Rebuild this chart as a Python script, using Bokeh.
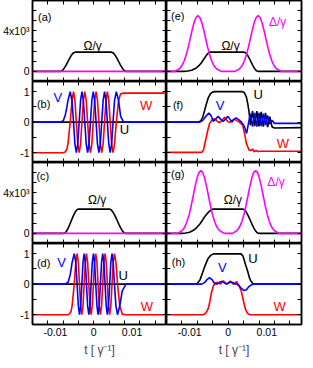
from bokeh.plotting import figure
from bokeh.layouts import gridplot
from bokeh.models import FixedTicker, LinearAxis, Label, Range1d
from bokeh.embed import file_html
from bokeh.resources import INLINE

FONT = "Liberation Sans"
BLACK, RED, BLUE, MAGENTA = "#000000", "#ff0000", "#0000ff", "#ff00ff"

# ---------------- axes ----------------
T_RANGE = (-16e-3, 19e-3)
X_LABEL_TICKS = [-0.01, 0.0, 0.01]
X_TICK_LABELS = {-0.01: "-0.01", 0.0: "0", 0.01: "0.01"}
X_MINOR_TICKS = [-16e-3, -12e-3, -8e-3, -4e-3, 0.0, 4e-3, 8e-3, 12e-3, 16e-3]
X_TITLE = "t [ γ⁻¹]"

OMEGA_RANGE = (-1000, 7000)
OMEGA_LABEL_TICKS = [0, 4000]
OMEGA_TICK_LABELS = {0: "0", 4000: "4x10³"}
OMEGA_MINOR_TICKS = [-1000, 0, 1000, 2000, 3000, 4000, 5000, 6000, 7000]

BLOCH_RANGE = (-1.32, 1.33)
BLOCH_LABEL_TICKS = [-1, 0, 1]
BLOCH_TICK_LABELS = {-1: "-1", 0: "0", 1: "1"}
BLOCH_MINOR_TICKS = [-1, -0.5, 0, 0.5, 1]

# ---------------- panel (a) ----------------
A_OMEGA_T = [-16e-3, -8.70e-3, -8.32e-3, -7.93e-3, -7.55e-3, -7.16e-3, -6.78e-3, -6.39e-3, -6.01e-3,
             -5.62e-3, -5.24e-3, -4.85e-3, 4.60e-3, 4.99e-3, 5.37e-3, 5.76e-3, 6.14e-3, 6.53e-3,
             6.91e-3, 7.30e-3, 7.68e-3, 8.07e-3, 8.45e-3, 19e-3]
A_OMEGA = [0, 0, 53, 198, 410, 669, 950, 1231, 1490, 1702, 1847, 1900, 1900, 1847, 1702, 1490,
           1231, 950, 669, 410, 198, 53, 0, 0]
A_DELTA_T = [-16e-3, 19e-3]
A_DELTA = [0, 0]

# ---------------- panel (c) ----------------
C_OMEGA_T = [-16e-3, -7.83e-3, -7.45e-3, -7.06e-3, -6.68e-3, -6.30e-3, -5.92e-3, -5.53e-3, -5.15e-3,
             -4.77e-3, -4.38e-3, -4.00e-3, 4.08e-3, 4.51e-3, 4.93e-3, 5.36e-3, 5.78e-3, 6.21e-3,
             6.63e-3, 7.06e-3, 7.48e-3, 7.91e-3, 8.33e-3, 19e-3]
C_OMEGA = [0, 0, 67, 250, 518, 845, 1200, 1555, 1882, 2150, 2333, 2400, 2400, 2333, 2150, 1882,
           1555, 1200, 845, 518, 250, 67, 0, 0]
C_DELTA_T = [-16e-3, 19e-3]
C_DELTA = [0, 0]

# ---------------- panel (e) ----------------
E_OMEGA_T = [-16e-3, -11.5e-3, -10.5e-3, -9.5e-3, -8.5e-3, -7.6e-3, -6.9e-3, -6.3e-3, -5.7e-3,
             -5.2e-3, -4.8e-3, 4.10e-3, 4.46e-3, 4.82e-3, 5.18e-3, 5.54e-3, 5.90e-3, 6.26e-3,
             6.62e-3, 6.98e-3, 7.34e-3, 7.70e-3, 19e-3]
E_OMEGA = [0, 0, 30, 110, 280, 560, 880, 1220, 1560, 1800, 1900, 1900, 1847, 1702, 1490, 1231,
           950, 669, 410, 198, 53, 0, 0]
E_DELTA_T = [-16e-3,
             -13.85e-3, -12.85e-3, -12.35e-3, -11.85e-3, -11.35e-3, -10.85e-3, -10.35e-3, -9.85e-3,
             -9.35e-3, -8.85e-3, -8.35e-3, -7.85e-3, -7.35e-3, -6.85e-3, -6.35e-3, -5.85e-3,
             -5.35e-3, -4.85e-3, -4.35e-3, -3.85e-3, -3.35e-3, -2.85e-3, -1.85e-3,
             1.75e-3, 2.75e-3, 3.25e-3, 3.75e-3, 4.25e-3, 4.75e-3, 5.25e-3, 5.75e-3, 6.25e-3,
             6.75e-3, 7.25e-3, 7.75e-3, 8.25e-3, 8.75e-3, 9.25e-3, 9.75e-3, 10.25e-3, 10.75e-3,
             11.25e-3, 11.75e-3, 12.25e-3, 12.75e-3, 13.75e-3,
             19e-3]
E_DELTA = [0,
           0, 204, 385, 671, 1100, 1683, 2420, 3250, 4092, 4824, 5324, 5500, 5324, 4824, 4092,
           3250, 2420, 1683, 1100, 671, 385, 204, 0,
           0, 204, 385, 671, 1100, 1683, 2420, 3250, 4092, 4824, 5324, 5500, 5324, 4824, 4092,
           3250, 2420, 1683, 1100, 671, 385, 204, 0,
           0]

# ---------------- panel (g) ----------------
G_OMEGA_T = [-16e-3, -12.0e-3, -11.0e-3, -10.0e-3, -9.0e-3, -8.1e-3, -7.3e-3, -6.6e-3, -5.9e-3,
             -5.1e-3, -4.4e-3, -3.9e-3, 3.75e-3, 4.17e-3, 4.58e-3, 5.00e-3, 5.41e-3, 5.83e-3,
             6.24e-3, 6.66e-3, 7.07e-3, 7.49e-3, 7.90e-3, 19e-3]
G_OMEGA = [0, 0, 30, 120, 300, 600, 950, 1350, 1750, 2100, 2330, 2400, 2400, 2333, 2150, 1882,
           1555, 1200, 845, 518, 250, 67, 0, 0]
G_DELTA_T = [-16e-3,
             -13.1e-3, -12.1e-3, -11.6e-3, -11.1e-3, -10.6e-3, -10.1e-3, -9.6e-3, -9.1e-3,
             -8.6e-3, -8.1e-3, -7.6e-3, -7.1e-3, -6.6e-3, -6.1e-3, -5.6e-3, -5.1e-3,
             -4.6e-3, -4.1e-3, -3.6e-3, -3.1e-3, -2.6e-3, -2.1e-3, -1.1e-3,
             1.1e-3, 2.1e-3, 2.6e-3, 3.1e-3, 3.6e-3, 4.1e-3, 4.6e-3, 5.1e-3, 5.6e-3,
             6.1e-3, 6.6e-3, 7.1e-3, 7.6e-3, 8.1e-3, 8.6e-3, 9.1e-3, 9.6e-3, 10.1e-3,
             10.6e-3, 11.1e-3, 11.6e-3, 12.1e-3, 13.1e-3,
             19e-3]
G_DELTA = [0,
           0, 229, 434, 756, 1240, 1897, 2728, 3664, 4613, 5437, 6002, 6200, 6002, 5437, 4613,
           3664, 2728, 1897, 1240, 756, 434, 229, 0,
           0, 229, 434, 756, 1240, 1897, 2728, 3664, 4613, 5437, 6002, 6200, 6002, 5437, 4613,
           3664, 2728, 1897, 1240, 756, 434, 229, 0,
           0]

# ---------------- panel (b) ----------------
B_T = [-16e-3, -8.67e-3, -7.91e-3, -7.40e-3, -7.02e-3,
       -6.73e-3, -6.15e-3, -5.69e-3, -5.28e-3, -4.92e-3, -4.55e-3, -4.18e-3, -3.81e-3,
       -3.44e-3, -3.08e-3, -2.71e-3, -2.34e-3, -1.97e-3, -1.60e-3, -1.23e-3, -0.87e-3,
       -0.50e-3, -0.13e-3, 0.24e-3, 0.61e-3, 0.97e-3, 1.34e-3, 1.71e-3, 2.08e-3,
       2.45e-3, 2.82e-3, 3.19e-3, 3.55e-3, 3.92e-3, 4.29e-3, 4.67e-3, 5.03e-3,
       5.43e-3, 5.89e-3, 6.48e-3,
       7.02e-3, 7.81e-3, 19e-3]
B_U_T = [-16e-3, 19e-3]
B_U = [0, 0]
B_V = [0, 0, 0.06, 0.25, 0.49,
       0.71, 1, 0.71, 0, -0.71, -1, -0.71, 0,
       0.71, 1, 0.71, 0, -0.71, -1, -0.71, 0,
       0.71, 1, 0.71, 0, -0.71, -1, -0.71, 0,
       0.71, 1, 0.71, 0, -0.71, -1, -0.71, 0,
       0.71, 1, 0.71,
       0.19, 0, 0]
B_W = [-1, -1, -1, -0.97, -0.87,
       -0.71, 0, 0.71, 1, 0.71, 0, -0.71, -1,
       -0.71, 0, 0.71, 1, 0.71, 0, -0.71, -1,
       -0.71, 0, 0.71, 1, 0.71, 0, -0.71, -1,
       -0.71, 0, 0.71, 1, 0.71, 0, -0.71, -1,
       -0.71, 0, 0.71,
       0.93, 0.95, 0.95]

# ---------------- panel (d) ----------------
D_T = [-16e-3, -7.45e-3, -6.68e-3, -6.17e-3, -5.92e-3,
       -5.65e-3, -5.10e-3, -4.69e-3, -4.35e-3, -4.03e-3, -3.72e-3, -3.42e-3, -3.11e-3,
       -2.81e-3, -2.51e-3, -2.20e-3, -1.90e-3, -1.60e-3, -1.29e-3, -0.99e-3, -0.69e-3,
       -0.39e-3, -0.08e-3, 0.22e-3, 0.52e-3, 0.83e-3, 1.13e-3, 1.43e-3, 1.73e-3,
       2.04e-3, 2.34e-3, 2.64e-3, 2.95e-3, 3.25e-3, 3.55e-3, 3.85e-3, 4.16e-3,
       4.46e-3, 4.77e-3, 5.08e-3, 5.41e-3, 5.79e-3, 6.21e-3, 6.79e-3,
       7.45e-3, 8.42e-3, 19e-3]
D_U_T = [-16e-3, 19e-3]
D_U = [0, 0]
D_V = [0, 0, 0.07, 0.30, 0.48,
       0.71, 1, 0.71, 0, -0.71, -1, -0.71, 0,
       0.71, 1, 0.71, 0, -0.71, -1, -0.71, 0,
       0.71, 1, 0.71, 0, -0.71, -1, -0.71, 0,
       0.71, 1, 0.71, 0, -0.71, -1, -0.71, 0,
       0.71, 1, 0.71, 0, -0.71, -1, -0.71,
       -0.22, 0, 0]
D_W = [-1, -1, -1, -0.95, -0.88,
       -0.71, 0, 0.71, 1, 0.71, 0, -0.71, -1,
       -0.71, 0, 0.71, 1, 0.71, 0, -0.71, -1,
       -0.71, 0, 0.71, 1, 0.71, 0, -0.71, -1,
       -0.71, 0, 0.71, 1, 0.71, 0, -0.71, -1,
       -0.71, 0, 0.71, 1, 0.71, 0, -0.71,
       -0.98, -1, -1]

# ---------------- panel (f) ----------------
F_U_T = [-16e-3, -7.91e-3, -7.14e-3, -6.63e-3, -6.12e-3, -5.61e-3, -5.10e-3, -4.59e-3, -3.95e-3,
         -3.32e-3, 3.57e-3, 4.21e-3, 4.72e-3, 5.10e-3, 5.43e-3, 5.74e-3, 6.30e-3, 6.86e-3,
         7.42e-3, 7.98e-3, 8.55e-3, 9.11e-3, 9.67e-3, 10.23e-3, 10.79e-3, 11.35e-3, 11.99e-3, 19e-3]
F_U = [0, 0, 0.04, 0.15, 0.38, 0.62, 0.82, 0.93, 0.99,
       1.0, 1.0, 0.96, 0.82, 0.58, 0.3, -0.1, 0.36, -0.13,
       0.36, -0.14, 0.34, -0.15, 0.3, -0.16, 0.18, -0.15, -0.19, -0.18]
F_V_T = [-16e-3, -7.40e-3, -6.63e-3, -5.87e-3, -5.03e-3, -4.46e-3, -3.90e-3, -3.32e-3, -2.63e-3,
         -1.99e-3, -1.35e-3, -0.71e-3, -0.08e-3, 0.43e-3, 0.94e-3, 1.53e-3, 2.04e-3, 2.68e-3,
         3.32e-3, 4.16e-3, 4.77e-3, 5.31e-3, 5.74e-3, 6.30e-3, 6.86e-3, 7.42e-3, 7.98e-3,
         8.55e-3, 9.11e-3, 9.67e-3, 10.23e-3, 10.79e-3, 11.35e-3, 11.99e-3, 19e-3]
F_V = [0, 0, 0.05, 0.18, 0.3, 0.22, 0.03, 0.08, 0.19,
       0.1, 0.02, 0.1, 0.19, 0.1, 0.0, 0.1, 0.14, 0.08,
       0.02, -0.13, -0.37, 0.0, 0.28, -0.15, 0.3, -0.15, 0.3,
       -0.13, 0.28, -0.1, 0.22, -0.06, 0.06, -0.04, -0.04]
F_W_T = [-16e-3, -6.89e-3, -6.38e-3, -5.87e-3, -5.36e-3, -4.85e-3, -4.34e-3, -3.49e-3, -2.86e-3,
         -2.22e-3, -1.58e-3, -0.94e-3, -0.31e-3, 0.33e-3, 0.97e-3, 1.61e-3, 2.24e-3, 2.88e-3,
         3.75e-3, 4.21e-3, 4.72e-3, 5.36e-3, 5.87e-3, 6.30e-3, 6.76e-3, 7.22e-3, 7.65e-3,
         8.42e-3, 19e-3]
F_W = [-0.99, -0.99, -0.9, -0.6, -0.3, -0.05, 0.05, 0.12, 0.03,
       -0.02, 0.07, 0.16, 0.05, -0.02, 0.05, 0.1, 0.05, 0.0,
       -0.1, -0.35, -0.7, -0.9, -0.93, -0.88, -0.97, -0.92, -0.96,
       -0.95, -0.95]

# ---------------- panel (h) ----------------
H_U_T = [-16e-3, -8.16e-3, -7.32e-3, -6.63e-3, -6.05e-3, -5.18e-3, -4.46e-3, -3.83e-3,
         3.32e-3, 3.83e-3, 4.46e-3, 5.03e-3, 5.48e-3, 5.87e-3, 6.38e-3, 6.89e-3, 19e-3]
H_U = [0, 0, 0.14, 0.38, 0.59, 0.85, 0.95, 0.99,
       0.99, 0.92, 0.65, 0.43, 0.22, 0.1, 0.02, 0, 0]
H_V_T = [-16e-3, -6.89e-3, -6.12e-3, -5.48e-3, -4.85e-3, -4.21e-3, -3.57e-3, -2.93e-3,
         -2.30e-3, -1.66e-3, -1.02e-3, -0.38e-3, 0.26e-3, 0.89e-3, 1.53e-3, 2.17e-3,
         2.81e-3, 3.44e-3, 4.08e-3, 4.72e-3, 5.36e-3, 5.99e-3, 6.63e-3, 19e-3]
H_V = [0, 0, 0.05, 0.15, 0.21, 0.15, 0.03, 0.0,
       0.06, 0.09, 0.04, 0.0, 0.05, 0.07, 0.03, 0.0,
       -0.05, -0.14, -0.21, -0.18, -0.08, -0.02, 0, 0]
H_W_T = [-16e-3, -6.38e-3, -5.74e-3, -5.18e-3, -4.72e-3, -4.34e-3, -3.83e-3, -3.32e-3,
         -2.68e-3, -2.04e-3, -1.28e-3, -0.38e-3, 0.51e-3, 1.40e-3, 2.17e-3, 2.81e-3,
         3.44e-3, 3.95e-3, 4.46e-3, 4.97e-3, 5.61e-3, 19e-3]
H_W = [-1, -1, -0.93, -0.8, -0.55, -0.27, -0.05, 0.04,
       0.06, 0.0, 0.11, 0.0, 0.1, -0.01, 0.08, -0.05,
       -0.25, -0.55, -0.82, -0.95, -1.0, -1.0]

# ---------------- in-panel texts ----------------
# (text, t, y, colour, size)
TEXTS = {
    "a": [("(a)", -12.8e-3, 5360, BLACK, "11px"), ("Ω/γ", -0.3e-3, 2500, BLACK, "12px")],
    "e": [("(e)", -13.1e-3, 5440, BLACK, "11px"), ("Ω/γ", 0.6e-3, 2500, BLACK, "12px"),
          ("Δ/γ", 12.8e-3, 4900, MAGENTA, "12px")],
    "c": [("(c)", -13.3e-3, 5700, BLACK, "11px"), ("Ω/γ", 0.9e-3, 3300, BLACK, "12px")],
    "g": [("(g)", -13.1e-3, 5900, BLACK, "11px"), ("Ω/γ", 1.2e-3, 3250, BLACK, "12px"),
          ("Δ/γ", 12.4e-3, 5100, MAGENTA, "12px")],
    "b": [("(b)", -13.1e-3, 0.61, BLACK, "11px"), ("V", -9.4e-3, 0.80, BLUE, "13px"),
          ("W", 13.7e-3, 0.54, RED, "13px"), ("U", 8.0e-3, -0.25, BLACK, "13px")],
    "d": [("(d)", -13.1e-3, 0.69, BLACK, "11px"), ("V", -8.4e-3, 0.71, BLUE, "13px"),
          ("U", 7.7e-3, 0.27, BLACK, "13px"), ("W", 13.9e-3, -0.74, RED, "13px")],
    "f": [("(f)", -13.0e-3, 0.56, BLACK, "11px"), ("V", -2.1e-3, 0.55, BLUE, "13px"),
          ("U", 7.8e-3, 0.92, BLACK, "13px"), ("W", 14.2e-3, -0.71, RED, "13px")],
    "h": [("(h)", -12.9e-3, 0.74, BLACK, "11px"), ("V", -1.5e-3, 0.56, BLUE, "13px"),
          ("U", 6.4e-3, 0.83, BLACK, "13px"), ("W", 13.3e-3, -0.74, RED, "13px")],
}

LW = 1.6


def make_axis(ticks, minor, overrides, show_labels):
    # Axes without labels get no major ticks at all, so they carry no texts;
    # all tick marks are drawn as (inward) minor ticks.
    if show_labels:
        ticker = FixedTicker(ticks=ticks, minor_ticks=minor)
    else:
        ticker = FixedTicker(ticks=[], minor_ticks=minor)
    ax = LinearAxis(ticker=ticker)
    ax.axis_line_color = BLACK
    ax.axis_line_width = 1.5
    ax.major_tick_in = 0
    ax.major_tick_out = 0
    ax.major_tick_line_color = None
    ax.minor_tick_in = 4
    ax.minor_tick_out = 0
    ax.minor_tick_line_color = BLACK
    ax.minor_tick_line_width = 1
    if show_labels:
        ax.major_label_overrides = overrides
        ax.major_label_text_font = FONT
        ax.major_label_text_font_size = "10.5px"
        ax.major_label_text_color = BLACK
        ax.major_label_standoff = 3
    else:
        ax.major_label_standoff = 0
    return ax


def make_panel(col, row, kind, key):
    width = 166 if col == 0 else 139
    height = 81 if row < 3 else 117
    yr = OMEGA_RANGE if kind == "omega" else BLOCH_RANGE
    p = figure(width=width, height=height, output_backend="svg", toolbar_location=None,
               x_range=Range1d(*T_RANGE), y_range=Range1d(*yr),
               x_axis_location=None, y_axis_location=None,
               min_border_left=30 if col == 0 else 0, min_border_right=0 if col == 0 else 4,
               min_border_top=0, min_border_bottom=36 if row == 3 else 0)
    p.grid.visible = False
    p.outline_line_color = BLACK
    p.outline_line_width = 1.5
    p.background_fill_color = "white"
    p.border_fill_color = "white"

    for place in ("below", "above"):
        show = (place == "below" and row == 3)
        ax = make_axis(X_LABEL_TICKS, X_MINOR_TICKS, X_TICK_LABELS, show)
        if show:
            ax.axis_label = X_TITLE
            ax.axis_label_text_font = FONT
            ax.axis_label_text_font_size = "12px"
            ax.axis_label_text_font_style = "normal"
            ax.axis_label_standoff = 4
        p.add_layout(ax, place)

    if kind == "omega":
        ticks, minor, labels = OMEGA_LABEL_TICKS, OMEGA_MINOR_TICKS, OMEGA_TICK_LABELS
    else:
        ticks, minor, labels = BLOCH_LABEL_TICKS, BLOCH_MINOR_TICKS, BLOCH_TICK_LABELS
    for place in ("left", "right"):
        show = (place == "left" and col == 0)
        p.add_layout(make_axis(ticks, minor, labels, show), place)

    for (text, tx, ty, color, size) in TEXTS[key]:
        p.add_layout(Label(x=tx, y=ty, text=text, text_font=FONT, text_font_size=size,
                           text_color=color, text_align="center", text_baseline="middle"))
    return p


pa = make_panel(0, 0, "omega", "a")
pa.line(A_OMEGA_T, A_OMEGA, line_color=BLACK, line_width=LW)
pa.line(A_DELTA_T, A_DELTA, line_color=MAGENTA, line_width=LW)

pe = make_panel(1, 0, "omega", "e")
pe.line(E_OMEGA_T, E_OMEGA, line_color=BLACK, line_width=LW)
pe.line(E_DELTA_T, E_DELTA, line_color=MAGENTA, line_width=LW)

pb = make_panel(0, 1, "bloch", "b")
pb.line(B_U_T, B_U, line_color=BLACK, line_width=LW)
pb.line(B_T, B_W, line_color=RED, line_width=LW)
pb.line(B_T, B_V, line_color=BLUE, line_width=LW)

pf = make_panel(1, 1, "bloch", "f")
pf.line(F_U_T, F_U, line_color=BLACK, line_width=LW)
pf.line(F_W_T, F_W, line_color=RED, line_width=LW)
pf.line(F_V_T, F_V, line_color=BLUE, line_width=LW)

pc = make_panel(0, 2, "omega", "c")
pc.line(C_OMEGA_T, C_OMEGA, line_color=BLACK, line_width=LW)
pc.line(C_DELTA_T, C_DELTA, line_color=MAGENTA, line_width=LW)

pg = make_panel(1, 2, "omega", "g")
pg.line(G_OMEGA_T, G_OMEGA, line_color=BLACK, line_width=LW)
pg.line(G_DELTA_T, G_DELTA, line_color=MAGENTA, line_width=LW)

pd_ = make_panel(0, 3, "bloch", "d")
pd_.line(D_U_T, D_U, line_color=BLACK, line_width=LW)
pd_.line(D_T, D_W, line_color=RED, line_width=LW)
pd_.line(D_T, D_V, line_color=BLUE, line_width=LW)

ph = make_panel(1, 3, "bloch", "h")
ph.line(H_U_T, H_U, line_color=BLACK, line_width=LW)
ph.line(H_W_T, H_W, line_color=RED, line_width=LW)
ph.line(H_V_T, H_V, line_color=BLUE, line_width=LW)

p = gridplot([[pa, pe], [pb, pf], [pc, pg], [pd_, ph]], toolbar_location=None)

open("out.html", "w").write(file_html(p, INLINE))
